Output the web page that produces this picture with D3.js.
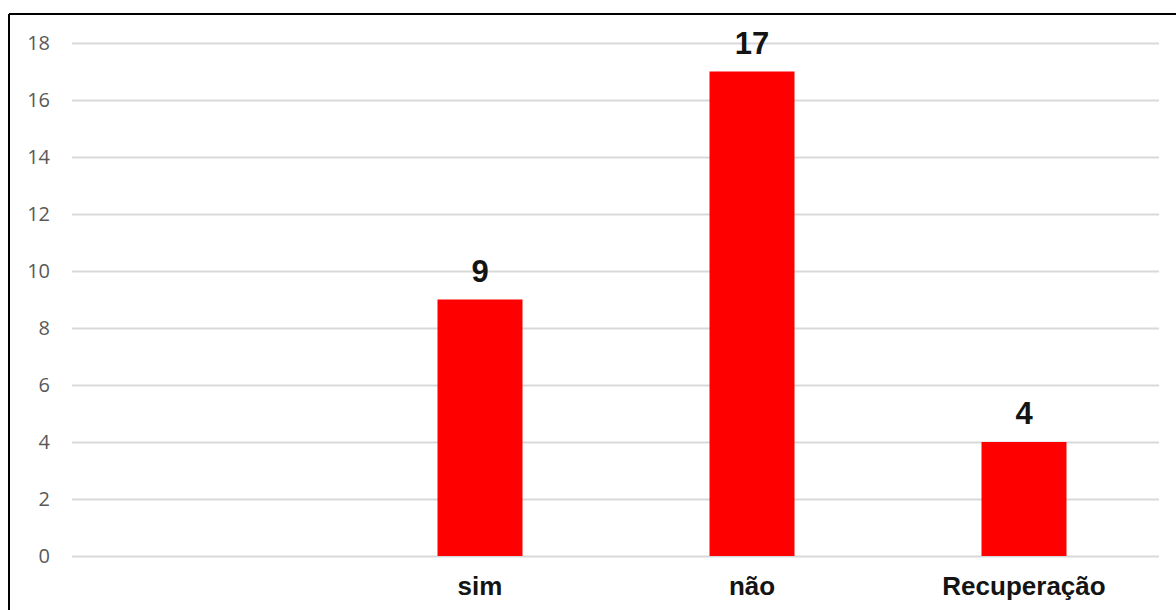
<!DOCTYPE html>
<html>
<head>
<meta charset="utf-8">
<script src="https://cdn.jsdelivr.net/npm/d3@7/dist/d3.min.js"></script>
<style>
  html, body { margin: 0; padding: 0; background: #fff; }
  svg { display: block; }
</style>
</head>
<body>
<script>
// Category labels (the first slot is left blank in the chart)
const categories = ["", "sim", "não", "Recuperação"];
const values = [null, 9, 17, 4];
const yTicks = [0, 2, 4, 6, 8, 10, 12, 14, 16, 18];

const W = 1176, H = 610;
const svg = d3.select("body").append("svg").attr("width", W).attr("height", H);

const x = d3.scaleBand().domain(categories).range([72, 1160])
  .paddingInner(0.6875).paddingOuter(0.34375);
const y = d3.scaleLinear().domain([0, 18]).range([556, 43]);

// frame lines
svg.append("line").attr("x1", 9).attr("x2", W).attr("y1", 14).attr("y2", 14)
  .attr("stroke", "#000").attr("stroke-width", 2);
svg.append("line").attr("x1", 9).attr("x2", 9).attr("y1", 14).attr("y2", H)
  .attr("stroke", "#000").attr("stroke-width", 2);

// gridlines
svg.append("g").selectAll("line").data(yTicks).join("line")
  .attr("x1", 72).attr("x2", 1159)
  .attr("y1", d => Math.round(y(d)) + 0.5).attr("y2", d => Math.round(y(d)) + 0.5)
  .attr("stroke", "#d9d9d9").attr("stroke-width", 2);

// y tick labels
const yAxis = d3.axisLeft(y).tickValues(yTicks).tickSize(0).tickPadding(0);
const ga = svg.append("g").attr("transform", "translate(50,0)").call(yAxis);
ga.select(".domain").remove();
ga.selectAll("text").attr("font-family", "Open Sans, sans-serif")
  .attr("font-size", 20).attr("fill", "#595959");

// bars
const data = categories.map((c, i) => ({ c, v: values[i] })).filter(d => d.v != null);
svg.append("g").selectAll("rect").data(data).join("rect")
  .attr("x", d => x(d.c)).attr("width", x.bandwidth())
  .attr("y", d => y(d.v)).attr("height", d => y(0) - y(d.v))
  .attr("fill", "#ff0000");

// value labels
svg.append("g").selectAll("text").data(data).join("text")
  .attr("x", d => x(d.c) + x.bandwidth() / 2).attr("y", d => y(d.v) - 18)
  .attr("text-anchor", "middle")
  .attr("font-family", "Liberation Sans, Arial, sans-serif")
  .attr("font-weight", "bold").attr("font-size", 31).attr("fill", "#141414")
  .text(d => d.v);

// category labels
const xAxis = d3.axisBottom(x).tickSize(0).tickPadding(0);
const gx = svg.append("g").call(xAxis);
gx.select(".domain").remove();
gx.selectAll("text").attr("y", 595).attr("dy", null)
  .attr("font-family", "Liberation Sans, Arial, sans-serif")
  .attr("font-weight", "bold").attr("font-size", 26).attr("fill", "#141414");
</script>
</body>
</html>
